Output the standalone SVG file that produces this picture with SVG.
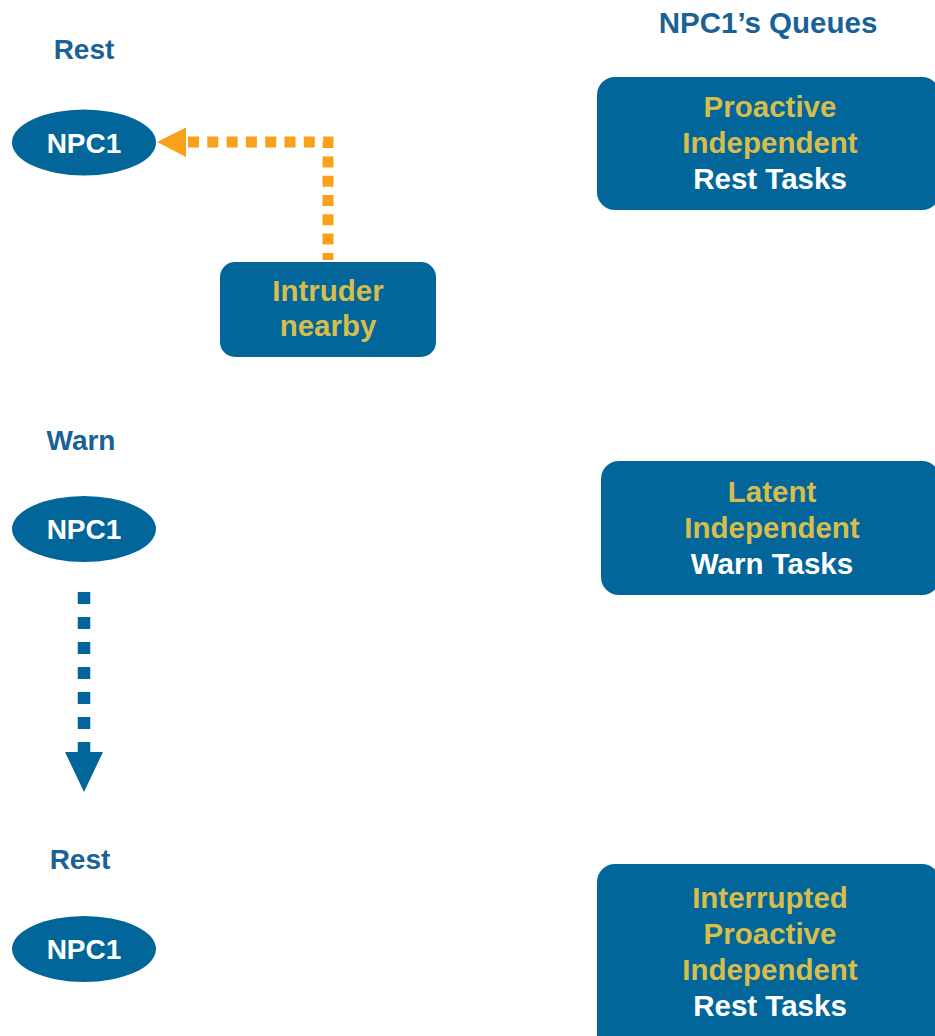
<svg xmlns="http://www.w3.org/2000/svg" width="935" height="1036" viewBox="0 0 935 1036">
<style>
  .bg { fill: #ffffff; }
  .shape { fill: #02669B; }
  .t { font-family: "Liberation Sans", Arial, sans-serif; font-weight: bold; font-size: 28px; text-anchor: middle; }
  .bx { font-size: 29.5px; }
  .label { fill: #1A6195; }
  .white { fill: #ffffff; }
  .gold { fill: #D7BD4C; }
  .orange { fill: none; stroke: #F9A11B; stroke-width: 11; stroke-dasharray: 11 8.3; stroke-linejoin: miter; }
  .blue { fill: none; stroke: #02669B; stroke-width: 12.5; stroke-dasharray: 12 13; }
</style>
<rect class="bg" x="0" y="0" width="935" height="1036"/>

<g id="title">
  <text class="t bx label" x="768" y="33">NPC1’s Queues</text>
</g>

<g id="label-rest-1"><text class="t label" x="84" y="59">Rest</text></g>
<g id="label-warn"><text class="t label" x="81" y="450">Warn</text></g>
<g id="label-rest-2"><text class="t label" x="80" y="869">Rest</text></g>

<g id="connectors">
  <path class="orange" d="M188,142 H328 V260"/>
  <polygon points="157,142 186,127.5 186,157" fill="#F9A11B"/>
  <path class="blue" d="M84,592 V753"/>
  <polygon points="65,752 103,752 84,792" fill="#02669B"/>
</g>

<g id="npc1-rest">
  <ellipse class="shape" cx="84" cy="142.5" rx="72" ry="33"/>
  <text class="t white" x="84" y="152.5">NPC1</text>
</g>

<g id="npc1-warn">
  <ellipse class="shape" cx="84" cy="529" rx="72" ry="33"/>
  <text class="t white" x="84" y="539">NPC1</text>
</g>

<g id="npc1-rest-2">
  <ellipse class="shape" cx="84" cy="949" rx="72" ry="33"/>
  <text class="t white" x="84" y="959">NPC1</text>
</g>

<g id="intruder">
  <rect class="shape" x="220" y="262" width="216" height="95" rx="15"/>
  <text class="t bx gold" x="328" y="301">Intruder</text>
  <text class="t bx gold" x="328" y="336">nearby</text>
</g>

<g id="queue-1">
  <rect class="shape" x="597" y="77" width="343" height="133" rx="18"/>
  <text class="t bx gold" x="770" y="117">Proactive</text>
  <text class="t bx gold" x="770" y="153">Independent</text>
  <text class="t bx white" x="770" y="189">Rest Tasks</text>
</g>

<g id="queue-2">
  <rect class="shape" x="601" y="461" width="339" height="134" rx="18"/>
  <text class="t bx gold" x="772" y="502">Latent</text>
  <text class="t bx gold" x="772" y="538">Independent</text>
  <text class="t bx white" x="772" y="574">Warn Tasks</text>
</g>

<g id="queue-3">
  <rect class="shape" x="597" y="864" width="343" height="190" rx="18"/>
  <text class="t bx gold" x="770" y="908">Interrupted</text>
  <text class="t bx gold" x="770" y="944">Proactive</text>
  <text class="t bx gold" x="770" y="980">Independent</text>
  <text class="t bx white" x="770" y="1016">Rest Tasks</text>
</g>
</svg>
